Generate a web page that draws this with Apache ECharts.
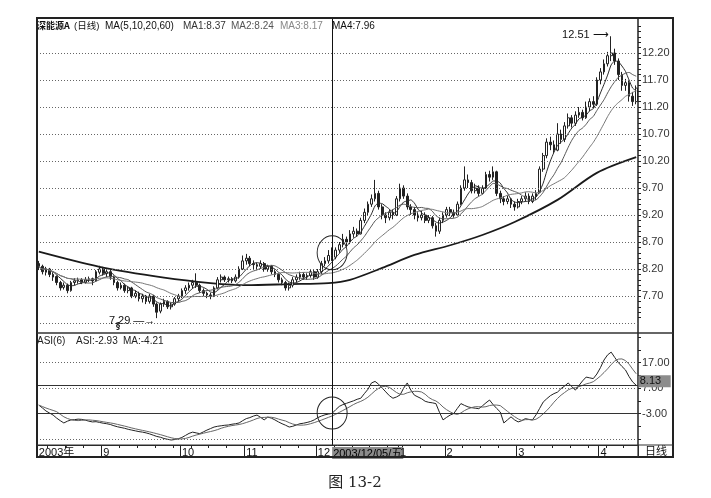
<!DOCTYPE html>
<html><head><meta charset="utf-8">
<script src="https://cdn.jsdelivr.net/npm/echarts@6/dist/echarts.min.js"></script>
<style>html,body{margin:0;padding:0;background:#fff}#c{width:711px;height:498px}</style>
</head><body><div id="c"></div>
<script>
// ---- data ----
// candles: [open, close, low, high], one per trading day 2003-08-06 .. 2004-04-15
const candles = [
[8.30,8.25,8.18,8.35],[8.25,8.15,8.10,8.28],[8.14,8.20,8.08,8.24],[8.20,8.10,8.05,8.22],[8.10,8.05,7.98,8.14],
[8.06,7.95,7.90,8.08],[7.95,7.85,7.80,7.98],[7.86,7.90,7.82,7.95],[7.90,7.80,7.75,7.93],[7.80,7.95,7.78,7.98],
[7.95,7.98,7.90,8.03],[7.98,8.00,7.93,8.04],[8.00,7.95,7.92,8.03],[7.95,8.00,7.93,8.05],[8.00,8.02,7.96,8.06],
[8.02,7.98,7.90,8.04],[7.98,8.15,7.96,8.18],[8.14,8.20,8.10,8.26],[8.20,8.12,8.08,8.24],[8.12,8.15,8.05,8.20],
[8.15,8.05,8.00,8.18],[8.05,7.95,7.90,8.08],[7.95,7.85,7.80,7.98],[7.85,7.90,7.82,7.95],[7.90,7.80,7.76,7.93],
[7.80,7.85,7.75,7.88],[7.85,7.70,7.66,7.87],[7.70,7.75,7.66,7.80],[7.75,7.65,7.60,7.78],[7.65,7.70,7.58,7.74],
[7.70,7.60,7.55,7.72],[7.60,7.70,7.56,7.74],[7.70,7.55,7.50,7.72],[7.55,7.40,7.29,7.58],[7.42,7.55,7.38,7.58],
[7.55,7.60,7.50,7.65],[7.60,7.50,7.46,7.62],[7.50,7.55,7.45,7.58],[7.55,7.65,7.52,7.68],[7.65,7.70,7.60,7.74],
[7.70,7.80,7.66,7.84],[7.80,7.85,7.74,7.90],[7.85,7.90,7.80,7.95],[7.90,7.95,7.84,8.00],[7.95,7.90,7.85,8.12],
[7.90,7.80,7.76,7.93],[7.80,7.75,7.70,7.84],[7.75,7.72,7.66,7.78],[7.72,7.70,7.64,7.76],[7.70,7.85,7.68,7.88],
[7.85,8.00,7.82,8.05],[8.00,8.05,7.95,8.10],[8.05,8.00,7.96,8.08],[8.00,8.02,7.95,8.06],[8.02,7.98,7.94,8.05],
[7.98,8.05,7.95,8.10],[8.05,8.20,8.02,8.25],[8.20,8.35,8.18,8.45],[8.35,8.40,8.28,8.48],[8.40,8.30,8.25,8.44],
[8.30,8.28,8.20,8.36],[8.28,8.25,8.18,8.32],[8.25,8.30,8.20,8.36],[8.30,8.20,8.15,8.33],[8.20,8.25,8.15,8.28],
[8.25,8.15,8.10,8.27],[8.15,8.10,8.05,8.18],[8.10,8.00,7.95,8.12],[8.00,7.95,7.90,8.04],[7.95,7.85,7.80,7.98],
[7.85,7.90,7.80,7.95],[7.90,8.00,7.86,8.05],[8.00,8.05,7.95,8.10],[8.05,8.10,8.00,8.15],[8.10,8.05,8.00,8.14],
[8.05,8.08,8.00,8.12],[8.08,8.15,8.04,8.20],[8.15,8.05,8.00,8.18],[8.05,8.15,8.02,8.20],[8.15,8.30,8.10,8.35],
[8.30,8.35,8.25,8.42],[8.35,8.45,8.30,8.55],[8.45,8.42,8.35,8.60],[8.42,8.55,8.38,8.60],[8.55,8.65,8.50,8.70],
[8.65,8.75,8.60,8.85],[8.75,8.70,8.62,8.80],[8.70,8.85,8.66,8.92],[8.85,8.90,8.78,8.98],[8.90,8.85,8.80,8.95],
[8.85,9.10,8.84,9.15],[9.10,9.25,9.05,9.32],[9.25,9.40,9.20,9.45],[9.40,9.50,9.35,9.58],[9.50,9.60,9.45,9.85],
[9.60,9.35,9.30,9.65],[9.35,9.20,9.12,9.40],[9.20,9.15,9.05,9.25],[9.15,9.25,9.10,9.30],[9.25,9.20,9.12,9.30],
[9.20,9.50,9.18,9.55],[9.50,9.70,9.45,9.78],[9.70,9.55,9.50,9.75],[9.55,9.35,9.30,9.60],[9.35,9.30,9.20,9.40],
[9.30,9.20,9.12,9.35],[9.20,9.15,9.08,9.25],[9.15,9.20,9.10,9.28],[9.20,9.10,9.05,9.25],[9.10,9.15,9.05,9.20],
[9.15,9.00,8.95,9.18],[9.00,8.90,8.80,9.05],[8.90,9.10,8.85,9.15],[9.10,9.20,9.05,9.25],[9.20,9.30,9.15,9.35],
[9.30,9.25,9.18,9.35],[9.25,9.20,9.15,9.30],[9.20,9.40,9.18,9.45],[9.40,9.70,9.38,9.75],[9.70,9.85,9.65,10.10],
[9.85,9.80,9.70,9.95],[9.80,9.65,9.60,9.85],[9.65,9.70,9.60,9.78],[9.70,9.60,9.55,9.75],[9.60,9.70,9.58,9.75],
[9.70,9.95,9.68,10.00],[9.95,9.90,9.82,10.02],[9.90,10.00,9.85,10.10],[10.00,9.60,9.55,10.02],[9.60,9.50,9.42,9.65],
[9.50,9.45,9.38,9.55],[9.45,9.50,9.40,9.56],[9.50,9.40,9.33,9.52],[9.40,9.35,9.28,9.45],[9.35,9.45,9.32,9.50],
[9.45,9.50,9.40,9.55],[9.50,9.55,9.45,9.62],[9.55,9.45,9.40,9.60],[9.45,9.55,9.42,9.60],[9.55,9.60,9.48,9.66],
[9.62,10.05,9.60,10.10],[10.05,10.30,10.00,10.35],[10.30,10.55,10.25,10.62],[10.55,10.50,10.40,10.65],[10.50,10.40,10.35,10.58],
[10.40,10.70,10.38,10.90],[10.70,10.60,10.52,10.78],[10.60,10.85,10.55,10.92],[10.85,11.00,10.80,11.08],[11.00,10.90,10.82,11.05],
[10.90,11.05,10.85,11.12],[11.05,11.10,11.00,11.20],[11.10,11.00,10.95,11.15],[11.00,11.20,10.98,11.30],[11.20,11.30,11.12,11.36],
[11.30,11.25,11.18,11.40],[11.25,11.70,11.22,11.75],[11.70,11.85,11.62,11.92],[11.85,12.00,11.80,12.08],[12.00,12.15,11.95,12.22],
[12.15,12.20,12.05,12.51],[12.20,12.05,11.98,12.28],[12.05,11.80,11.70,12.10],[11.80,11.60,11.50,11.85],[11.60,11.65,11.50,11.72],
[11.65,11.40,11.30,11.70],[11.40,11.30,11.22,11.48],[11.30,11.55,11.25,11.60]
];
// ASI(6) daily values
const asi = [
0.3,-0.8,-2.0,-2.8,-3.6,-4.8,-5.8,-6.7,-6.0,-5.5,
-5.4,-5.2,-5.3,-5.6,-6.0,-6.3,-6.2,-6.5,-6.8,-7.0,
-7.3,-7.8,-8.2,-8.5,-8.8,-9.2,-9.5,-9.8,-10.1,-10.3,
-10.6,-11.0,-11.5,-12.0,-12.3,-12.8,-13.1,-13.4,-13.2,-12.9,
-12.4,-11.6,-10.8,-10.3,-10.6,-10.9,-10.2,-9.5,-8.9,-8.3,
-8.0,-7.8,-7.6,-7.5,-7.2,-7.0,-6.7,-5.8,-5.0,-4.6,
-4.0,-3.6,-4.5,-5.5,-4.4,-4.8,-5.5,-6.3,-7.0,-7.6,
-8.3,-8.0,-7.5,-7.0,-6.8,-6.5,-6.1,-5.5,-4.6,-4.0,
-3.5,-3.2,-2.93,-1.5,-0.2,0.5,1.0,1.5,2.0,2.6,
3.0,4.8,6.5,9.0,9.6,8.5,7.0,5.5,4.0,3.0,
3.5,4.3,7.0,9.0,6.2,4.2,3.5,2.8,1.8,1.4,
1.2,0.9,-2.5,-5.5,-4.5,-3.6,-3.0,-1.0,0.9,0.2,
-0.4,-0.7,-0.9,-1.1,0.0,1.2,2.3,0.5,-1.0,-2.4,
-6.7,-5.5,-4.3,-5.5,-6.3,-5.8,-5.0,-5.3,-5.5,-3.5,
-1.0,1.5,2.8,4.0,4.8,5.4,6.8,7.8,9.0,7.5,
6.2,8.0,9.8,11.3,11.0,10.7,12.5,15.0,18.0,20.0,
21.1,19.0,17.0,15.5,14.1,11.5,9.4,8.1
];
// MA60 read at sample days [dayIndex, value]
const ma60Points = [[0,8.52],[17,8.24],[35,8.04],[48,7.94],[58,7.90],[70,7.92],[81,7.94],[87,8.00],[96,8.22],[105,8.46],[115,8.64],[124,8.83],[133,9.07],[145,9.48],[156,9.98],[167,10.27]];
const priceLabels = [7.7,8.2,8.7,9.2,9.7,10.2,10.7,11.2,11.7,12.2];
const priceTicks = [7.3,7.4,7.5,7.6,7.7,7.8,7.9,8.0,8.1,8.2,8.3,8.4,8.5,8.6,8.7,8.8,8.9,9.0,9.1,9.2,9.3,9.4,9.5,9.6,9.7,9.8,9.9,10.0,10.1,10.2,10.3,10.4,10.5,10.6,10.7,10.8,10.9,11.0,11.1,11.2,11.3,11.4,11.5,11.6,11.7,11.8,11.9,12.0,12.1,12.2,12.3,12.4,12.5,12.6,12.7];
const priceGridLines = [7.2,7.7,8.2,8.7,9.2,9.7,10.2,10.7,11.2,11.7,12.2];
const asiLabels = [17,7,-3];
const asiTicks = [27,22,17,12,7,2,-3,-8,-13];
const asiGridLines = [17,7,-3,-13];
const asiRefLines = [8,-3];
const holidays = ['2003-10-01','2003-10-02','2003-10-03','2003-10-06','2003-10-07','2004-01-01',
  '2004-01-19','2004-01-20','2004-01-21','2004-01-22','2004-01-23','2004-01-26','2004-01-27','2004-01-28'];
const firstDay = '2003-08-06', lastDay = '2004-04-15';
const cursorIndex = 82;          // 2003/12/05
const cursorText = '2003/12/05/五';
const highIndex = 160, highText = '12.51';
const lowIndex = 33, lowText = '7.29';
const asiLastText = '8.13';

// ---- categories (trading days) ----
const dates = [];
for (let d = new Date(firstDay + 'T00:00:00Z'); d <= new Date(lastDay + 'T00:00:00Z'); d.setUTCDate(d.getUTCDate() + 1)) {
  const wd = d.getUTCDay();
  const s = d.toISOString().slice(0, 10);
  if (wd === 0 || wd === 6 || holidays.includes(s)) continue;
  dates.push(s);
}
const monthStart = dates.map((s, i) => i > 0 && s.slice(5, 7) !== dates[i - 1].slice(5, 7));
const isMonday = dates.map(s => new Date(s + 'T00:00:00Z').getUTCDay() === 1);

function ma(arr, n) {
  return arr.map((_, i) => {
    const a = arr.slice(Math.max(0, i - n + 1), i + 1);
    return +(a.reduce((s, v) => s + v, 0) / a.length).toFixed(3);
  });
}
const closes = candles.map(c => c[1]);
const ma5 = ma(closes, 5), ma10 = ma(closes, 10), ma20 = ma(closes, 20);
const asiMa = ma(asi, 6);

const F = '"Liberation Sans", Arial, "Noto Sans CJK SC", sans-serif';
const dotted = { type: [1, 2], color: '#666', width: 1 };

function t(x, y, text, fill, font, align) {
  return { type: 'text', silent: true, z: 100, x: x, y: y,
    style: { text: text, fill: fill, font: font || '10px "Liberation Sans", Arial, "Noto Sans CJK SC"',
      align: align || 'left', verticalAlign: 'middle' } };
}

const chart = echarts.init(document.getElementById('c'), null, { renderer: 'canvas' });
chart.setOption({
  animation: false,
  backgroundColor: '#fff',
  grid: [
    { left: 37, top: 18, width: 601, height: 315 },
    { left: 37, top: 333, width: 601, height: 112 }
  ],
  xAxis: [
    { type: 'category', gridIndex: 0, data: dates, boundaryGap: true,
      axisLine: { show: false, onZero: false }, axisTick: { show: false }, axisLabel: { show: false }, splitLine: { show: false } },
    { type: 'category', gridIndex: 1, data: dates, boundaryGap: true, position: 'bottom',
      axisLine: { show: true, onZero: false, lineStyle: { color: '#222', width: 1 } },
      axisTick: { show: true, length: 12, lineStyle: { color: '#222' },
        interval: (i) => monthStart[i] },
      axisLabel: { show: true, margin: 2, align: 'left', verticalAlign: 'top', fontSize: 11, fontFamily: F, color: '#111',
        interval: (i) => i === 0 || monthStart[i] || i === cursorIndex,
        formatter: (v, i) => {
          if (i === 0) return '2003年';
          if (i === cursorIndex) return '{hl|' + cursorText + '}';
          return String(+v.slice(5, 7));
        },
        rich: { hl: { backgroundColor: '#8c8c8c', color: '#000', fontSize: 11, fontFamily: F, padding: [1, 1, 0, 1] } } },
      splitLine: { show: false } },
    { type: 'category', gridIndex: 1, data: dates, boundaryGap: true, position: 'bottom',
      axisLine: { show: false, onZero: false },
      axisTick: { show: true, length: 3, lineStyle: { color: '#222' }, interval: (i) => isMonday[i] && !monthStart[i] },
      axisLabel: { show: false }, splitLine: { show: false } }
  ],
  yAxis: [
    { type: 'value', gridIndex: 0, position: 'right', min: 7.015, max: 12.848, scale: true,
      axisLine: { show: true, lineStyle: { color: '#222', width: 1.5 } },
      axisTick: { show: true, length: 3, inside: false, lineStyle: { color: '#222' }, customValues: priceTicks },
      axisLabel: { show: true, margin: 4, fontSize: 11, fontFamily: F, color: '#333', customValues: priceLabels,
        formatter: v => v.toFixed(2) },
      splitLine: { show: false } },
    { type: 'value', gridIndex: 1, position: 'right', min: -15.35, max: 28.6,
      axisLine: { show: true, lineStyle: { color: '#222', width: 1.5 } },
      axisTick: { show: true, length: 3, lineStyle: { color: '#222' }, customValues: asiTicks },
      axisLabel: { show: true, margin: 4, fontSize: 11, fontFamily: F, color: '#333', customValues: asiLabels,
        formatter: v => v.toFixed(2) },
      splitLine: { show: false } }
  ],
  series: [
    { name: 'K', type: 'candlestick', xAxisIndex: 0, yAxisIndex: 0, data: candles, barWidth: '62%',
      itemStyle: { color: '#fff', color0: '#222', borderColor: '#222', borderColor0: '#222', borderWidth: 1 },
      markLine: { silent: true, symbol: 'none', label: { show: false },
        lineStyle: { type: 'solid', color: '#111', width: 1 },
        data: [{ xAxis: cursorIndex }] },
      markPoint: { silent: true,
        data: [
          { coord: [cursorIndex, 8.5], symbol: 'circle', symbolSize: [30, 34],
            itemStyle: { color: 'rgba(0,0,0,0)', borderColor: '#222', borderWidth: 1 }, label: { show: false } },
          { coord: [highIndex, 12.51], symbol: 'circle', symbolSize: 1, itemStyle: { color: 'rgba(0,0,0,0)' },
            label: { show: true, position: 'left', distance: 2, offset: [0, -1], formatter: highText + ' ⟶',
              fontSize: 11, fontFamily: F, color: '#111' } },
          { coord: [lowIndex, 7.29], symbol: 'circle', symbolSize: 1, itemStyle: { color: 'rgba(0,0,0,0)' },
            label: { show: true, position: 'left', distance: 1, offset: [0, 3], formatter: lowText + ' —→',
              fontSize: 11, fontFamily: F, color: '#111' } }
        ] } },
    { name: 'MA1', type: 'line', xAxisIndex: 0, yAxisIndex: 0, data: ma5, showSymbol: false, smooth: 0.2,
      lineStyle: { color: '#2a2a2a', width: 1 } },
    { name: 'MA2', type: 'line', xAxisIndex: 0, yAxisIndex: 0, data: ma10, showSymbol: false, smooth: 0.2,
      lineStyle: { color: '#555', width: 1 } },
    { name: 'MA3', type: 'line', xAxisIndex: 0, yAxisIndex: 0, data: ma20, showSymbol: false, smooth: 0.2,
      lineStyle: { color: '#777', width: 1 } },
    { name: 'MA4', type: 'line', xAxisIndex: 0, yAxisIndex: 0, data: ma60Points, showSymbol: false, smooth: 0.3,
      lineStyle: { color: '#1a1a1a', width: 1.8 }, z: 1,
      markLine: { silent: true, symbol: 'none', label: { show: false }, lineStyle: dotted,
        data: priceGridLines.map(v => ({ yAxis: v })) } },
    { name: 'ASI', type: 'line', xAxisIndex: 1, yAxisIndex: 1, data: asi, showSymbol: false,
      lineStyle: { color: '#222', width: 1 },
      markLine: { silent: true, symbol: 'none', label: { show: false },
        data: asiGridLines.map(v => ({ yAxis: v, lineStyle: dotted }))
          .concat(asiRefLines.map(v => ({ yAxis: v, lineStyle: { type: 'solid', color: '#333', width: 1.2 } })))
          .concat([{ xAxis: cursorIndex, lineStyle: { type: 'solid', color: '#111', width: 1 } }]) },
      markPoint: { silent: true,
        data: [
          { coord: [cursorIndex, -2.8], symbol: 'circle', symbolSize: [30, 32],
            itemStyle: { color: 'rgba(0,0,0,0)', borderColor: '#222', borderWidth: 1 }, label: { show: false } },
          { coord: [dates.length - 1, 8.13], symbol: 'circle', symbolSize: 1, itemStyle: { color: 'rgba(0,0,0,0)' },
            label: { show: true, position: 'right', distance: 2, offset: [0, -4], formatter: asiLastText,
              backgroundColor: '#8c8c8c', color: '#111', fontSize: 11, fontFamily: F, width: 30, padding: [1, 1, 0, 1] } }
        ] } },
    { name: 'ASIMA', type: 'line', xAxisIndex: 1, yAxisIndex: 1, data: asiMa, showSymbol: false,
      lineStyle: { color: '#666', width: 1 } }
  ],
  graphic: [
    { type: 'rect', silent: true, z: 100, shape: { x: 37, y: 18, width: 636, height: 439 },
      style: { fill: 'none', stroke: '#222', lineWidth: 2 } },
    { type: 'line', silent: true, z: 100, shape: { x1: 37, y1: 333, x2: 673, y2: 333 }, style: { stroke: '#333', lineWidth: 1.5 } },
    { type: 'line', silent: true, z: 100, shape: { x1: 37, y1: 445, x2: 673, y2: 445 }, style: { stroke: '#333', lineWidth: 1.2 } },
    { type: 'line', silent: true, z: 100, shape: { x1: 638, y1: 445, x2: 638, y2: 457 }, style: { stroke: '#333', lineWidth: 1.2 } },
    t(656, 451, '日线', '#111', '11px "Noto Sans CJK SC"', 'center'),
    t(37, 26, '深能源A', '#111', 'bold 9px "Noto Sans CJK SC", "Liberation Sans"'),
    t(74, 26, '(日线)', '#111', '9.5px "Liberation Sans", "Noto Sans CJK SC"'),
    t(105, 26, 'MA(5,10,20,60)', '#111'),
    t(183, 26, 'MA1:8.37', '#333'),
    t(231, 26, 'MA2:8.24', '#555'),
    t(280, 26, 'MA3:8.17', '#888'),
    t(332, 26, 'MA4:7.96', '#111'),
    t(37, 341, 'ASI(6)', '#222'),
    t(76, 341, 'ASI:-2.93', '#222'),
    t(123, 341, 'MA:-4.21', '#222'),
    t(116, 327, '§', '#222', 'bold 8px "DejaVu Sans"'),
    t(355, 483, '图 13-2', '#222', '15px "DejaVu Serif", "Noto Sans CJK SC"', 'center')
  ]
});
</script></body></html>
